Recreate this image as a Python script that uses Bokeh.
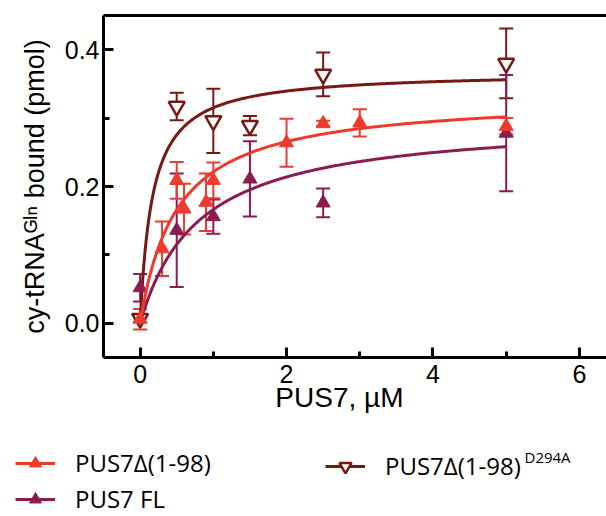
import numpy as np
from bokeh.plotting import figure
from bokeh.layouts import column, row
from bokeh.models import (ColumnDataSource, Whisker, TeeHead, FixedTicker, PrintfTickFormatter,
                          LinearAxis, Legend, LegendItem, Range1d, Label)
from bokeh.embed import file_html
from bokeh.resources import INLINE

# ---------------- data ----------------
x_del = [0.0, 0.3, 0.5, 0.6, 0.9, 1.0, 2.0, 2.5, 3.0, 5.0]
y_del = [0.006, 0.109, 0.209, 0.167, 0.177, 0.209, 0.264, 0.292, 0.293, 0.288]
e_del = [0.015, 0.040, 0.027, 0.037, 0.042, 0.026, 0.035, 0.004, 0.020, 0.012]

x_fl = [0.0, 0.5, 1.0, 1.5, 2.5, 5.0]
y_fl = [0.052, 0.136, 0.156, 0.211, 0.176, 0.278]
e_fl = [0.020, 0.083, 0.025, 0.055, 0.021, 0.085]

x_mut = [0.0, 0.5, 1.0, 1.5, 2.5, 5.0]
y_mut = [0.007, 0.317, 0.296, 0.289, 0.364, 0.380]
e_mut = [0.005, 0.020, 0.047, 0.014, 0.032, 0.051]

# one-site binding fits: Bmax (pmol), Kd (uM)
fit_del = (0.332, 0.50)
fit_fl = (0.2995, 0.80)
fit_mut = (0.368, 0.168)
fit_xmax = 5.0

x_ticks = [0, 2, 4, 6]
x_minor = [1, 3, 5]
y_ticks = [0.0, 0.2, 0.4]
y_minor = [0.1, 0.3]

x_title = "PUS7, \u00b5M"
y_title = "cy-tRNA\u1d33\u02e1\u207f bound (pmol)"
labels = ["PUS7\u0394(1-98)", "PUS7 FL", "PUS7\u0394(1-98)"]
sup_mut = "D294A"

RED = "#EE3A2B"
PURPLE = "#8C1B50"
DARK = "#771812"

FONT = "Liberation Sans"
LFONT = "Open Sans"

W, H_TOP, H_BOT = 606, 430, 86

# ---------------- main plot ----------------
p = figure(width=W, height=H_TOP, output_backend="svg", toolbar_location=None,
           x_range=Range1d(-0.5, 6.37), y_range=Range1d(-0.05, 0.45),
           min_border_left=103, min_border_right=0, min_border_top=15, min_border_bottom=73)
p.outline_line_color = None
p.xgrid.visible = False
p.ygrid.visible = False

for ax, tk, mn in ((p.xaxis[0], x_ticks, x_minor), (p.yaxis[0], y_ticks, y_minor)):
    ax.ticker = FixedTicker(ticks=tk, minor_ticks=mn)
    ax.axis_line_width = 3
    ax.axis_line_color = "black"
    ax.major_tick_in = 10
    ax.major_tick_out = 0
    ax.minor_tick_in = 6
    ax.minor_tick_out = 0
    ax.major_tick_line_width = 3
    ax.minor_tick_line_width = 3
    ax.major_tick_line_color = "black"
    ax.minor_tick_line_color = "black"
    ax.major_label_text_font = FONT
    ax.major_label_text_font_size = "25px"
    ax.major_label_text_color = "black"
    ax.axis_label_text_font = FONT
    ax.axis_label_text_font_style = "normal"
    ax.axis_label_text_color = "black"
p.yaxis[0].formatter = PrintfTickFormatter(format="%.1f")
p.yaxis[0].major_label_standoff = 4
p.yaxis[0].axis_label = y_title
p.yaxis[0].axis_label_text_font_size = "27px"
p.yaxis[0].axis_label_standoff = 12
p.xaxis[0].major_label_standoff = 7
p.xaxis[0].axis_label = x_title + "\u00a0" * 4
p.xaxis[0].axis_label_text_font_size = "28px"
p.xaxis[0].axis_label_standoff = -4

top = LinearAxis(ticker=FixedTicker(ticks=[]), axis_line_width=3, axis_line_color="black",
                 major_tick_line_color=None, minor_tick_line_color=None,
                 major_label_text_font_size="0px", major_label_standoff=0)
p.add_layout(top, "above")

def add_series(xs, ys, es, fit, color, marker, size, fill, lw):
    src = ColumnDataSource(dict(x=xs, y=ys,
                                lo=[a - b for a, b in zip(ys, es)],
                                hi=[a + b for a, b in zip(ys, es)]))
    w = Whisker(source=src, base="x", upper="hi", lower="lo", dimension="height",
                line_color=color, line_width=2,
                upper_head=TeeHead(size=14, line_color=color, line_width=2),
                lower_head=TeeHead(size=14, line_color=color, line_width=2))
    p.add_layout(w)
    p.scatter("x", "y", source=src, marker=marker, size=size, fill_color=fill,
              line_color=color, line_width=lw)
    bmax, kd = fit
    xf = np.linspace(0, fit_xmax, 300)
    yf = bmax * xf / (kd + xf)
    p.line(xf, yf, line_color=color, line_width=3)

add_series(x_mut, y_mut, e_mut, fit_mut, DARK, "inverted_triangle", 16, "white", 2.5)
add_series(x_fl, y_fl, e_fl, fit_fl, PURPLE, "triangle", 14, PURPLE, 1)
add_series(x_del, y_del, e_del, fit_del, RED, "triangle", 14, RED, 1)

# ---------------- legend strip ----------------
lg = figure(width=W, height=H_BOT, output_backend="svg", toolbar_location=None,
            x_range=Range1d(0, W), y_range=Range1d(0, H_BOT),
            min_border=0, x_axis_type=None, y_axis_type=None)
lg.outline_line_color = None
lg.grid.visible = False

def legend_renderers(color, marker, fill, lw):
    # proxy glyphs (a single NaN point, never drawn) that only feed the legend
    ln = lg.line(x=np.array([np.nan]), y=np.array([np.nan]), line_color=color, line_width=3)
    sc = lg.scatter(x=np.array([np.nan]), y=np.array([np.nan]), marker=marker,
                    fill_color=fill, line_color=color, line_width=lw)
    return [ln, sc]

r_del = legend_renderers(RED, "triangle", RED, 1)
r_fl = legend_renderers(PURPLE, "triangle", PURPLE, 1)
r_mut = legend_renderers(DARK, "inverted_triangle", "white", 2.5)

leg_kw = dict(glyph_width=40, glyph_height=30, label_height=30, label_standoff=20,
              padding=0, margin=0, spacing=3, border_line_color=None,
              background_fill_alpha=0, label_text_font=LFONT, label_text_font_size="24px",
              label_text_color="black")
leg1 = Legend(items=[LegendItem(label=labels[0], renderers=r_del),
                     LegendItem(label=labels[1], renderers=r_fl)],
              location=(15, 1), **leg_kw)
leg2 = Legend(items=[LegendItem(label=labels[2], renderers=r_mut)],
              location=(325, 34), **leg_kw)
lg.add_layout(leg1)
lg.add_layout(leg2)
lg.add_layout(Label(x=524, y=H_BOT - 26, text=sup_mut, text_font_size="15px", text_align="left",
                    text_baseline="alphabetic", text_color="black", text_font=LFONT))

layout = column(row(p), lg)
open("out.html", "w").write(file_html(layout, INLINE))
